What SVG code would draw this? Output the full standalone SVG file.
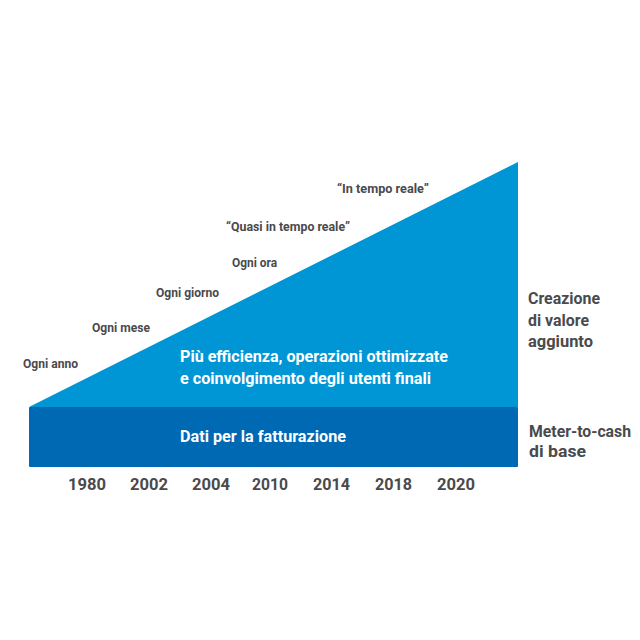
<svg xmlns="http://www.w3.org/2000/svg" width="640" height="640" viewBox="0 0 640 640">
<style>
.lbl{font-family:Roboto,"DejaVu Sans",sans-serif;font-weight:bold;fill:#4a4a4c}
.s{font-size:13.5px}
.m{font-size:16px}
.w{font-family:Roboto,"DejaVu Sans",sans-serif;font-weight:bold;fill:#ffffff;font-size:16px}
</style>
<rect width="640" height="640" fill="#ffffff"/>
<g id="triangle">
<polygon points="29,407 518,162 518,407" fill="#0096d6"/>
<text class="w" x="180" y="362" textLength="268" lengthAdjust="spacingAndGlyphs">Più efficienza, operazioni ottimizzate</text>
<text class="w" x="180" y="384" textLength="251" lengthAdjust="spacingAndGlyphs">e coinvolgimento degli utenti finali</text>
</g>
<g id="bar">
<rect x="29" y="407" width="489" height="60" rx="1" fill="#0069b4"/>
<text class="w" x="180" y="442" textLength="166" lengthAdjust="spacingAndGlyphs">Dati per la fatturazione</text>
</g>
<g id="frequency">
<text class="lbl s" x="23" y="368" textLength="55" lengthAdjust="spacingAndGlyphs">Ogni anno</text>
<text class="lbl s" x="92" y="332" textLength="58" lengthAdjust="spacingAndGlyphs">Ogni mese</text>
<text class="lbl s" x="156" y="297" textLength="63" lengthAdjust="spacingAndGlyphs">Ogni giorno</text>
<text class="lbl s" x="232" y="267" textLength="45" lengthAdjust="spacingAndGlyphs">Ogni ora</text>
<text class="lbl s" x="226" y="231" textLength="124" lengthAdjust="spacingAndGlyphs">“Quasi in tempo reale”</text>
<text class="lbl s" x="337" y="193" textLength="92" lengthAdjust="spacingAndGlyphs">“In tempo reale”</text>
</g>
<g id="right-labels">
<text class="lbl m" x="528" y="304" textLength="72" lengthAdjust="spacingAndGlyphs">Creazione</text>
<text class="lbl m" x="528" y="326" textLength="61" lengthAdjust="spacingAndGlyphs">di valore</text>
<text class="lbl m" x="528" y="347" textLength="65" lengthAdjust="spacingAndGlyphs">aggiunto</text>
<text class="lbl m" x="529" y="437" textLength="102" lengthAdjust="spacingAndGlyphs">Meter-to-cash</text>
<text class="lbl m" x="529" y="457" textLength="57" lengthAdjust="spacingAndGlyphs">di base</text>
</g>
<g id="years">
<text class="lbl m" x="68" y="490" textLength="38" lengthAdjust="spacingAndGlyphs">1980</text>
<text class="lbl m" x="130" y="490" textLength="38" lengthAdjust="spacingAndGlyphs">2002</text>
<text class="lbl m" x="192" y="490" textLength="38" lengthAdjust="spacingAndGlyphs">2004</text>
<text class="lbl m" x="252" y="490" textLength="36" lengthAdjust="spacingAndGlyphs">2010</text>
<text class="lbl m" x="313" y="490" textLength="37" lengthAdjust="spacingAndGlyphs">2014</text>
<text class="lbl m" x="375" y="490" textLength="37" lengthAdjust="spacingAndGlyphs">2018</text>
<text class="lbl m" x="437" y="490" textLength="38" lengthAdjust="spacingAndGlyphs">2020</text>
</g>
</svg>
